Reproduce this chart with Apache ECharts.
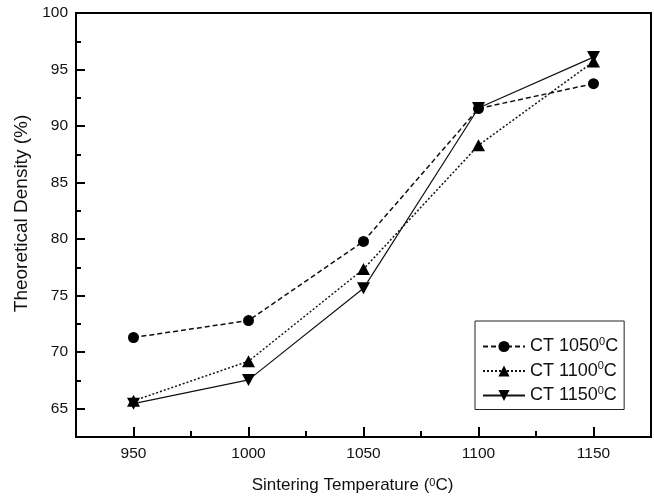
<!DOCTYPE html>
<html>
<head>
<meta charset="utf-8">
<script src="https://cdn.jsdelivr.net/npm/echarts@6/dist/echarts.min.js"></script>
<style>html,body{margin:0;padding:0;background:#fff}#c{width:654px;height:500px}</style>
</head>
<body>
<div id="c"></div>
<script>
const temperatures = [950, 1000, 1050, 1100, 1150];
const ct1050 = [71.3, 72.8, 79.8, 91.55, 93.75];
const ct1100 = [65.7, 69.2, 77.35, 88.3, 95.7];
const ct1150 = [65.45, 67.55, 75.65, 91.6, 96.1];
const seriesNames = ['CT 1050', 'CT 1100', 'CT 1150'];
const xMajorTicks = [950, 1000, 1050, 1100, 1150];
const xMinorTicks = [975, 1025, 1075, 1125];
const yMajorTicks = [65, 70, 75, 80, 85, 90, 95, 100];
const yMinorTicks = [67.5, 72.5, 77.5, 82.5, 87.5, 92.5, 97.5];

const FONT = '"Liberation Sans", Arial, Helvetica, sans-serif';
const pairs = arr => temperatures.map((t, i) => [t, arr[i]]);
const downTri = 'path://M0,0 L10,0 L5,9 Z';
const supStyle = {fontSize: 11, fontFamily: FONT, color: '#111', verticalAlign: 'top', lineHeight: 11, padding: [0, 0, 3, 0]};

const chart = echarts.init(document.getElementById('c'), null, {renderer: 'canvas'});
chart.setOption({
  animation: false,
  backgroundColor: '#fff',
  textStyle: {fontFamily: FONT},
  grid: {left: 76, right: 3, top: 13, bottom: 63, show: true, borderColor: '#000', borderWidth: 2, backgroundColor: 'transparent'},
  legend: {
    orient: 'vertical', left: 475, top: 321,
    padding: [15, 6, 5, 7],
    itemGap: 5, itemWidth: 42, itemHeight: 14,
    borderColor: '#222', borderWidth: 1, backgroundColor: '#fff',
    data: seriesNames,
    formatter: n => '{a|' + n + '}{s|0}{a|C}',
    textStyle: {
      fontFamily: FONT, color: '#111',
      rich: {
        a: {fontSize: 18, fontFamily: FONT, color: '#111', lineHeight: 21},
        s: supStyle
      }
    }
  },
  xAxis: [{
    type: 'value', min: 925, max: 1175, position: 'bottom',
    name: 'Sintering Temperature ({s|0}C)', nameLocation: 'middle', nameGap: 40,
    nameTextStyle: {fontSize: 17, color: '#111', fontFamily: FONT, padding: [0, 22, 0, 0],
      rich: {s: supStyle}},
    axisLine: {show: true, lineStyle: {color: '#000', width: 2}},
    axisTick: {show: true, inside: true, length: 10, lineStyle: {color: '#000', width: 2}, customValues: xMajorTicks},
    axisLabel: {customValues: xMajorTicks, fontSize: 15.5, color: '#111', margin: 9, fontFamily: FONT,
      formatter: v => String(v)},
    splitLine: {show: false}
  }, {
    type: 'value', min: 925, max: 1175, position: 'bottom', gridIndex: 0,
    axisLine: {show: false},
    axisTick: {show: true, inside: true, length: 6, lineStyle: {color: '#000', width: 2}, customValues: xMinorTicks},
    axisLabel: {show: false},
    splitLine: {show: false}
  }],
  yAxis: [{
    type: 'value', min: 62.5, max: 100, position: 'left',
    name: 'Theoretical Density (%)', nameLocation: 'middle', nameGap: 44,
    nameTextStyle: {fontSize: 19, color: '#111', fontFamily: FONT, padding: [0, 0, 0, 23]},
    axisLine: {show: true, lineStyle: {color: '#000', width: 2}},
    axisTick: {show: true, inside: true, length: 9, lineStyle: {color: '#000', width: 2}, customValues: yMajorTicks},
    axisLabel: {customValues: yMajorTicks, fontSize: 15.5, color: '#111', margin: 8, fontFamily: FONT,
      formatter: v => String(v)},
    splitLine: {show: false}
  }, {
    type: 'value', min: 62.5, max: 100, position: 'left', offset: 0, gridIndex: 0,
    axisLine: {show: false},
    axisTick: {show: true, inside: true, length: 5, lineStyle: {color: '#000', width: 2}, customValues: yMinorTicks},
    axisLabel: {show: false},
    splitLine: {show: false}
  }],
  series: [{
    name: seriesNames[0], type: 'line', data: pairs(ct1050),
    symbol: 'circle', symbolSize: 11,
    lineStyle: {color: '#111', width: 1.5, type: [5, 3]},
    itemStyle: {color: '#000'}
  }, {
    name: seriesNames[1], type: 'line', data: pairs(ct1100),
    symbol: 'triangle', symbolSize: [13, 12],
    lineStyle: {color: '#111', width: 1.5, type: [2, 2]},
    itemStyle: {color: '#000'}
  }, {
    name: seriesNames[2], type: 'line', data: pairs(ct1150),
    symbol: downTri, symbolSize: [13, 12],
    lineStyle: {color: '#111', width: 1.2, type: 'solid'},
    itemStyle: {color: '#000'}
  }]
});
</script>
</body>
</html>
